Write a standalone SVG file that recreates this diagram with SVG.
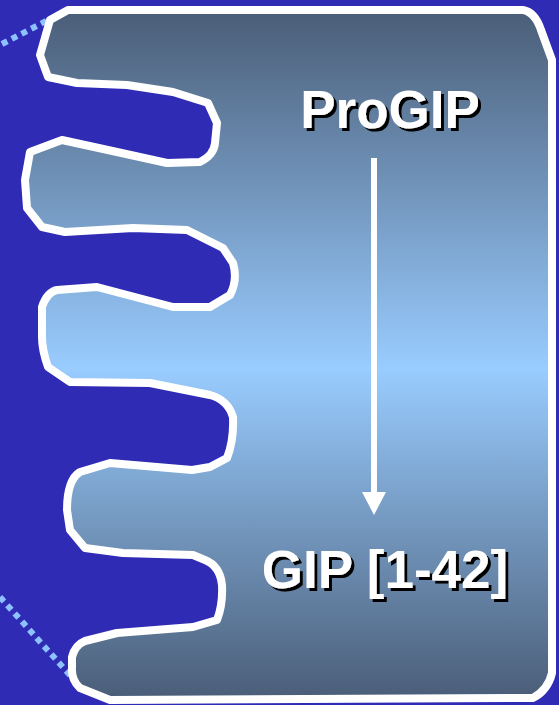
<svg xmlns="http://www.w3.org/2000/svg" width="559" height="705" viewBox="0 0 559 705">
  <defs>
    <linearGradient id="cellFill" gradientUnits="userSpaceOnUse" x1="0" y1="10" x2="0" y2="700">
      <stop offset="0" stop-color="#4a5d77"/>
      <stop offset="0.52" stop-color="#99ccff"/>
      <stop offset="1" stop-color="#4a5d77"/>
    </linearGradient>
    <filter id="textShadow" x="-10%" y="-20%" width="130%" height="150%">
      <feOffset in="SourceAlpha" dx="3" dy="3" result="off"/>
      <feFlood flood-color="#000000"/>
      <feComposite in2="off" operator="in" result="shadow"/>
      <feMerge>
        <feMergeNode in="shadow"/>
        <feMergeNode in="SourceGraphic"/>
      </feMerge>
    </filter>
    <style>
      .label { font-family: "Liberation Sans", Arial, sans-serif; font-weight: bold; font-size: 53px; text-anchor: middle; fill: #ffffff; filter: url(#textShadow); }
      .dots { fill: none; stroke: #8ec2ff; stroke-width: 6; stroke-dasharray: 6 5; }
    </style>
  </defs>

  <!-- background -->
  <rect x="0" y="0" width="559" height="705" fill="#2f2bb5"/>

  <!-- dotted membrane continuation -->
  <line class="dots" x1="2" y1="44" x2="50" y2="19"/>
  <line class="dots" x1="0" y1="597" x2="77" y2="683"/>

  <!-- cell with folded membrane -->
  <g id="cell">
    <path d="M68,10 L523,10 Q535,12 541,30 L552,60 L552,673 Q548,690 533,698 L110,700 L80,688 Q71,680 72,667 L72,657 Q75,645 85,641 L117,633 L193,627 L217,620 Q223,605 222,585 Q220,566 205,560 L193,555 L123,553 L85,548 L70,530 L67,510 Q67,480 80,472 L110,463 L192,470 L210,467 L227,458 Q234,440 233,417 Q228,400 210,395 L150,383 L70,382 L48,367 Q42,350 42,337 L42,307 Q47,292 57,290 L97,287 L173,307 L210,307 L230,295 Q238,280 233,263 L223,248 L187,230 L133,228 L65,232 L42,227 L27,208 L25,180 L30,152 L62,140 L117,152 L167,163 L200,162 Q214,155 215,143 L217,123 L208,103 L173,92 L127,85 L77,83 L48,77 L40,55 L50,20 Z" fill="url(#cellFill)" stroke="#ffffff" stroke-width="8" stroke-linejoin="round"/>
  </g>

  <!-- connectors -->
  <g id="connectors">
    <line x1="374" y1="158" x2="374" y2="494" stroke="#ffffff" stroke-width="6"/>
    <polygon points="362,492 386,492 374,515" fill="#ffffff"/>
  </g>

  <g id="progip">
    <text class="label" x="390" y="128">ProGIP</text>
  </g>

  <g id="gip">
    <text class="label" x="385" y="588">GIP [1-42]</text>
  </g>
</svg>
